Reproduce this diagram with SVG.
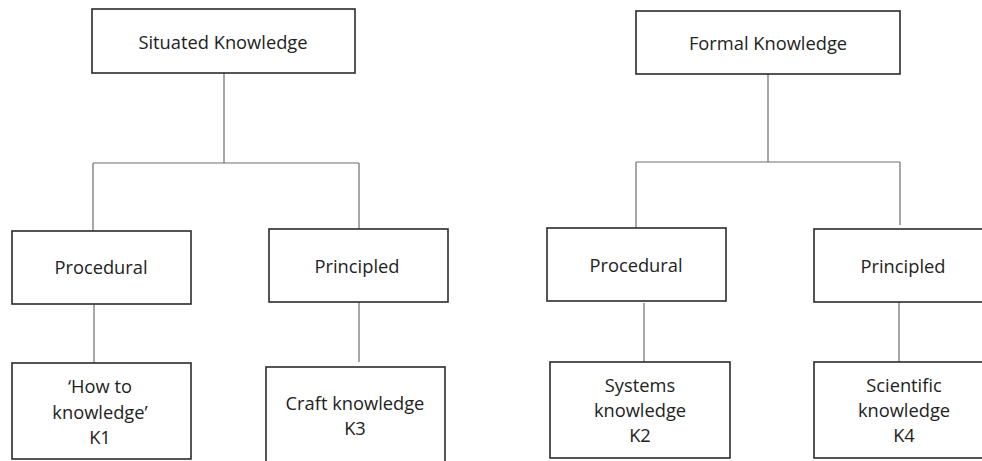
<svg xmlns="http://www.w3.org/2000/svg" width="982" height="461" viewBox="0 0 982 461">
  <style>
    .box { fill: #ffffff; stroke: #2b2b2b; stroke-width: 1.6; }
    .lbl { font-family: "Open Sans", "Liberation Sans", Arial, sans-serif; font-size: 18.3px; fill: #222222; text-anchor: middle; }
    .link { fill: none; stroke: #6e6e6e; stroke-width: 1.2; }
  </style>
  <rect width="982" height="461" fill="#ffffff"/>

  <!-- connectors -->
  <g id="connectors">
    <path class="link" d="M224 73 V163 M93 163 H359 M93 163 V231 M359 163 V229"/>
    <path class="link" d="M94 304 V363"/>
    <path class="link" d="M359 302 V362"/>
    <path class="link" d="M768 74 V162 M636 162 H900 M636 162 V228 M900 162 V225"/>
    <path class="link" d="M644 303 V362"/>
    <path class="link" d="M899 302 V362"/>
  </g>

  <!-- Situated branch -->
  <g id="situated">
    <rect class="box" x="92" y="9" width="263" height="64"/>
    <text class="lbl" x="223" y="49">Situated Knowledge</text>
  </g>
  <g id="situated-procedural">
    <rect class="box" x="12" y="231" width="179" height="73"/>
    <text class="lbl" x="101" y="274">Procedural</text>
  </g>
  <g id="situated-principled">
    <rect class="box" x="269" y="229" width="179" height="73"/>
    <text class="lbl" x="357" y="273">Principled</text>
  </g>
  <g id="k1">
    <rect class="box" x="12" y="363" width="179" height="96"/>
    <text class="lbl" x="100" y="393">‘How to</text>
    <text class="lbl" x="100" y="419">knowledge’</text>
    <text class="lbl" x="100" y="444">K1</text>
  </g>
  <g id="k3">
    <rect class="box" x="266" y="367" width="179" height="110"/>
    <text class="lbl" x="355" y="410">Craft knowledge</text>
    <text class="lbl" x="355" y="435">K3</text>
  </g>

  <!-- Formal branch -->
  <g id="formal">
    <rect class="box" x="636" y="11" width="264" height="63"/>
    <text class="lbl" x="768" y="50">Formal Knowledge</text>
  </g>
  <g id="formal-procedural">
    <rect class="box" x="547" y="228" width="179" height="73"/>
    <text class="lbl" x="636" y="272">Procedural</text>
  </g>
  <g id="formal-principled">
    <rect class="box" x="814" y="229" width="200" height="73"/>
    <text class="lbl" x="903" y="273">Principled</text>
  </g>
  <g id="k2">
    <rect class="box" x="550" y="362" width="180" height="96"/>
    <text class="lbl" x="640" y="392">Systems</text>
    <text class="lbl" x="640" y="417">knowledge</text>
    <text class="lbl" x="640" y="442">K2</text>
  </g>
  <g id="k4">
    <rect class="box" x="814" y="362" width="200" height="96"/>
    <text class="lbl" x="904" y="392">Scientific</text>
    <text class="lbl" x="904" y="417">knowledge</text>
    <text class="lbl" x="904" y="442">K4</text>
  </g>
</svg>
